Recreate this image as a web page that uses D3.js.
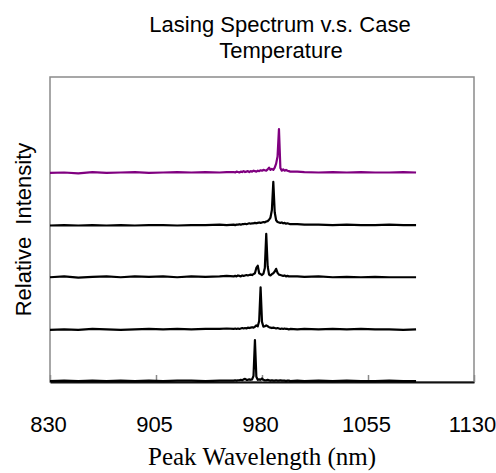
<!DOCTYPE html>
<html>
<head>
<meta charset="utf-8">
<script src="https://cdn.jsdelivr.net/npm/d3@7"></script>
<style>
  html, body { margin: 0; padding: 0; background: #fff; }
  svg { display: block; }
  .title, .tick-label, .y-label { font-family: "Liberation Sans", Arial, sans-serif; fill: #000; }
  .x-label { font-family: "Liberation Serif", "Times New Roman", serif; fill: #000; }
</style>
</head>
<body>
<svg width="496" height="473"></svg>
<script>
/* global d3 */
// wavelength grid (nm), shared by all spectra
var wavelengths = [
  830, 840, 850, 860, 870, 880, 890, 900, 910, 920, 930, 940, 950, 955,
  960, 961, 962, 963, 964, 965, 966, 967, 968, 969,
  970, 971, 972, 973, 974, 975, 976, 977, 978, 979,
  980, 981, 982, 983, 984, 985, 986, 987, 988, 989,
  990, 991, 992, 993, 994, 995, 996, 997, 998, 999,
  1000,
  1005, 1010, 1020, 1030, 1040, 1050, 1060, 1070, 1080, 1089
];

// relative intensity, bottom trace first
var spectrum1 = [
  0.02, 0.03, 0.02, 0.03, 0.02, 0.03, 0.02, 0.03, 0.02, 0.03, 0.03, 0.02, 0.03, 0.03,
  0.03, 0.04, 0.03, 0.04, 0.04, 0.05, 0.04, 0.06, 0.07, 0.05,
  0.05, 0.06, 0.05, 0.06, 0.14, 0.95, 0.12, 0.05, 0.06, 0.05,
  0.08, 0.05, 0.04, 0.04, 0.05, 0.04, 0.03, 0.04, 0.03, 0.03,
  0.04, 0.03, 0.03, 0.04, 0.03, 0.03, 0.03, 0.02, 0.03, 0.03,
  0.02,
  0.03, 0.02, 0.03, 0.02, 0.03, 0.02, 0.02, 0.03, 0.02, 0.02
];
var spectrum2 = [
  0.00, 0.01, 0.00, 0.02, 0.01, 0.00, 0.01, 0.02, 0.01, 0.02, 0.01, 0.02, 0.02, 0.03,
  0.02, 0.03, 0.02, 0.03, 0.02, 0.03, 0.04, 0.03, 0.04, 0.03,
  0.05, 0.04, 0.05, 0.06, 0.05, 0.07, 0.10, 0.08, 0.20, 0.96,
  0.18, 0.07, 0.08, 0.10, 0.08, 0.06, 0.05, 0.04, 0.05, 0.04,
  0.03, 0.04, 0.03, 0.02, 0.03, 0.02, 0.03, 0.02, 0.02, 0.01,
  0.02,
  0.01, 0.02, 0.01, 0.02, 0.01, 0.02, 0.01, 0.01, 0.00, 0.01
];
var spectrum3 = [
  0.01, 0.03, 0.00, 0.02, 0.03, 0.01, 0.03, 0.02, 0.03, 0.01, 0.03, 0.02, 0.03, 0.04,
  0.03, 0.04, 0.03, 0.05, 0.04, 0.03, 0.05, 0.04, 0.05, 0.06,
  0.05, 0.06, 0.07, 0.06, 0.08, 0.10, 0.22, 0.27, 0.10, 0.08,
  0.06, 0.09, 0.22, 0.99, 0.26, 0.07, 0.05, 0.08, 0.10, 0.14,
  0.20, 0.11, 0.07, 0.06, 0.05, 0.04, 0.05, 0.03, 0.04, 0.03,
  0.03,
  0.03, 0.02, 0.03, 0.01, 0.02, 0.01, 0.02, 0.01, 0.01, 0.01
];
var spectrum4 = [
  0.00, 0.01, 0.00, 0.01, 0.00, 0.01, 0.00, 0.01, 0.01, 0.00, 0.01, 0.01, 0.02, 0.01,
  0.02, 0.01, 0.02, 0.02, 0.03, 0.02, 0.03, 0.03, 0.04, 0.03,
  0.04, 0.05, 0.04, 0.05, 0.05, 0.06, 0.05, 0.06, 0.07, 0.06,
  0.07, 0.08, 0.07, 0.09, 0.10, 0.13, 0.18, 0.35, 0.99, 0.30,
  0.12, 0.08, 0.07, 0.06, 0.07, 0.05, 0.06, 0.04, 0.05, 0.04,
  0.03,
  0.03, 0.02, 0.02, 0.01, 0.02, 0.01, 0.01, 0.02, 0.01, 0.01
];
var spectrum5 = [
  0.01, 0.02, 0.00, 0.03, 0.01, 0.02, 0.03, 0.01, 0.02, 0.03, 0.02, 0.03, 0.02, 0.03,
  0.03, 0.02, 0.04, 0.03, 0.02, 0.04, 0.03, 0.05, 0.03, 0.04,
  0.05, 0.03, 0.05, 0.04, 0.06, 0.05, 0.04, 0.06, 0.05, 0.07,
  0.06, 0.08, 0.07, 0.06, 0.09, 0.13, 0.08, 0.10, 0.08, 0.13,
  0.22, 0.38, 1.00, 0.12, 0.06, 0.09, 0.06, 0.08, 0.06, 0.05,
  0.04,
  0.04, 0.03, 0.02, 0.03, 0.02, 0.03, 0.02, 0.02, 0.03, 0.02
];

var spectra = [spectrum1, spectrum2, spectrum3, spectrum4, spectrum5];
// vertical stacking offset of each trace
var offsets = [0, 1.18, 2.36, 3.54, 4.72];
var traceColors = ['#000000', '#000000', '#000000', '#000000', '#800080'];
var xTicks = [830, 905, 980, 1055, 1130];

(function () {
  'use strict';

  var margin = {top: 77, right: 22, bottom: 91, left: 50};
  var svg = d3.select('svg');
  var width = +svg.attr('width') - margin.left - margin.right;
  var height = +svg.attr('height') - margin.top - margin.bottom;

  var x = d3.scaleLinear().domain([830, 1130]).range([0, width]);
  var y = d3.scaleLinear().domain([0, 6.9]).range([height, 0]);

  var g = svg.append('g')
    .attr('transform', 'translate(' + margin.left + ',' + margin.top + ')');

  // plot frame
  g.append('rect')
    .attr('width', width)
    .attr('height', height)
    .attr('fill', 'none')
    .attr('stroke', '#8a8a8a')
    .attr('stroke-width', 1.5);

  // inward ticks along the bottom
  var xAxis = d3.axisBottom(x)
    .tickValues(xTicks)
    .tickFormat(d3.format('d'))
    .tickSizeInner(-7)
    .tickSizeOuter(0)
    .tickPadding(50);

  var axisG = g.append('g')
    .attr('transform', 'translate(0,' + height + ')')
    .call(xAxis);
  axisG.select('.domain').attr('stroke', '#111').attr('stroke-width', 2);
  axisG.selectAll('.tick line').attr('stroke', '#8a8a8a').attr('stroke-width', 1.5);
  axisG.selectAll('.tick text')
    .attr('class', 'tick-label')
    .attr('dy', 0)
    .attr('dx', -2)
    .style('font-size', '22px');

  var line = d3.line()
    .x(function (d, i) { return x(wavelengths[i]); });

  spectra.forEach(function (values, k) {
    line.y(function (d) { return y(d + offsets[k]); });
    g.append('path')
      .datum(values)
      .attr('fill', 'none')
      .attr('stroke', traceColors[k])
      .attr('stroke-width', 2.2)
      .attr('stroke-linejoin', 'round')
      .attr('d', line);
  });

  // title
  var title = svg.append('text')
    .attr('class', 'title')
    .attr('text-anchor', 'middle')
    .style('font-size', '22px');
  title.append('tspan').attr('x', 280).attr('y', 32).text('Lasing Spectrum v.s. Case');
  title.append('tspan').attr('x', 281).attr('y', 58).text('Temperature');

  svg.append('text')
    .attr('class', 'x-label')
    .attr('text-anchor', 'middle')
    .attr('x', margin.left + width / 2)
    .attr('y', 465)
    .style('font-size', '25px')
    .text('Peak Wavelength (nm)');

  svg.append('text')
    .attr('class', 'y-label')
    .attr('text-anchor', 'middle')
    .attr('transform', 'translate(31,' + (margin.top + height / 2) + ') rotate(-90)')
    .style('font-size', '22px')
    .style('word-spacing', '6px')
    .text('Relative Intensity');
}());
</script>
</body>
</html>
